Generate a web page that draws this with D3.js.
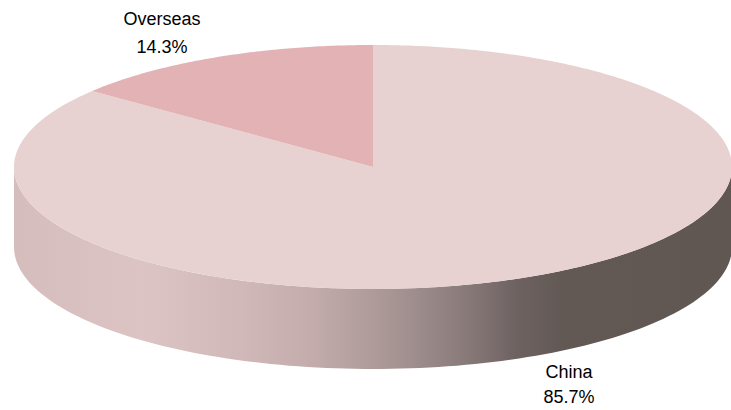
<!DOCTYPE html>
<html><head><meta charset="utf-8">
<script src="https://cdn.jsdelivr.net/npm/d3@7"></script>
<style>html,body{margin:0;padding:0;background:#fff;}svg{display:block;}</style>
</head><body><svg id="chart" width="731" height="410"></svg>
<script>
const categories = ["China", "Overseas"];
const values = [85.7, 14.3];
const labels = ["85.7%", "14.3%"];
const topColors = ["#e8d1d1", "#e2b2b4"];

const W = 731, H = 410;
const cx = 373, cy = 167, rx = 359, ry = 122, depth = 80;
const svg = d3.select("#chart");

// pie: Overseas drawn counterclockwise from 12 o'clock, China the rest
const data = categories.map((c, i) => ({name: c, value: values[i], label: labels[i], color: topColors[i]}));
const pie = d3.pie().value(d => d.value).sort(null)
  .startAngle(0).endAngle(2 * Math.PI);
// Order so Overseas occupies the last 14.3% (i.e. just counterclockwise of top)
const arcs = pie(data);

const defs = svg.append("defs");
const grad = defs.append("linearGradient").attr("id", "side")
  .attr("gradientUnits", "userSpaceOnUse")
  .attr("x1", cx - rx).attr("x2", cx + rx).attr("y1", 0).attr("y2", 0);
[[0, "#d5bdbd"], [0.18, "#dcc4c4"], [0.32, "#d0b8b8"], [0.42, "#c2abaa"],
 [0.52, "#a99796"], [0.62, "#8c7d7d"], [0.70, "#6e6261"], [0.76, "#625955"], [1, "#605753"]]
  .forEach(([o, c]) => grad.append("stop").attr("offset", o).attr("stop-color", c));

// projection of angle (clockwise from 12 o'clock)
const px = a => cx + rx * Math.sin(a);
const py = (a, dz = 0) => cy - ry * Math.cos(a) + dz;

// side wall (front half, belongs to China)
const side = d3.path();
side.moveTo(cx - rx, cy);
side.lineTo(cx - rx, cy + depth);
const N = 120;
for (let i = 0; i <= N; i++) {
  const a = 1.5 * Math.PI - (i / N) * Math.PI; // from 9 o'clock through 6 to 3
  side.lineTo(px(a), py(a, depth));
}
side.lineTo(cx + rx, cy);
for (let i = 0; i <= N; i++) {
  const a = 0.5 * Math.PI + (i / N) * Math.PI;
  side.lineTo(px(a), py(a));
}
side.closePath();
svg.append("path").attr("d", side.toString()).attr("fill", "url(#side)");

// top faces
arcs.forEach(d => {
  const p = d3.path();
  p.moveTo(cx, cy);
  const steps = Math.max(4, Math.ceil((d.endAngle - d.startAngle) / 0.01));
  for (let i = 0; i <= steps; i++) {
    const a = d.startAngle + (d.endAngle - d.startAngle) * i / steps;
    p.lineTo(px(a), py(a));
  }
  p.closePath();
  svg.append("path").attr("d", p.toString()).attr("fill", d.data.color);
});

// labels
const labelPos = {
  "China": {x: 569, y: 378, gap: 25},
  "Overseas": {x: 162, y: 25, gap: 28}
};
arcs.forEach(d => {
  const lp = labelPos[d.data.name];
  const t = svg.append("text").attr("text-anchor", "middle")
    .attr("font-family", "Liberation Sans, Arial, sans-serif")
    .attr("font-size", 18).attr("fill", "#000");
  t.append("tspan").attr("x", lp.x).attr("y", lp.y).text(d.data.name);
  t.append("tspan").attr("x", lp.x).attr("y", lp.y + lp.gap).text(d.data.label);
});
</script></body></html>
